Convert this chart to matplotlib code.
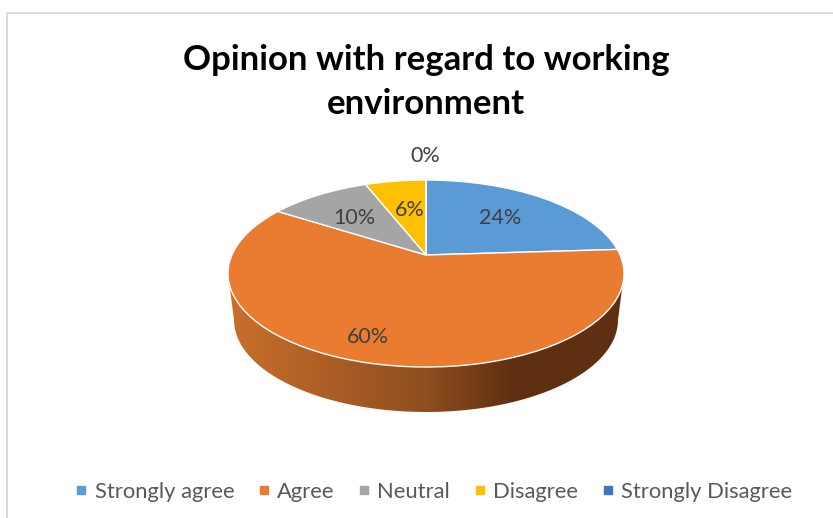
import numpy as np
import matplotlib
matplotlib.use('Agg')
import matplotlib.pyplot as plt
from matplotlib.colors import LinearSegmentedColormap
from matplotlib.lines import Line2D
from matplotlib.patches import PathPatch
from matplotlib.path import Path
from matplotlib.transforms import Transform

plt.rcParams['font.family'] = ['Lato', 'DejaVu Sans']

categories = ['Strongly agree', 'Agree', 'Neutral', 'Disagree', 'Strongly Disagree']
values = [24, 60, 10, 6, 0]
colors = ['#5b9bd5', '#ea7c32', '#a5a5a5', '#ffc000', '#4472c4']
title = 'Opinion with regard to working\nenvironment'

# where the percent labels sit, in pixels
label_xy = [(500, 218), (368, 337), (354, 218), (410, 210), (425, 156)]

W, H = 833, 518
CX, CY = 426, 255     # pie apex in pixels
K = 0.198             # perspective strength
SY = 89.84
SX = 194.1


class Tilt(Transform):
    # unit pie -> tilted disc in pixels, back of the disc is squeezed
    input_dims = 2
    output_dims = 2

    def transform_non_affine(self, xy):
        xy = np.asarray(xy, dtype=float)
        w = 1 + K * xy[:, 1]
        return np.column_stack([CX + SX * xy[:, 0] / w, CY - SY * xy[:, 1] / w])


fig = plt.figure(figsize=(W / 100, H / 100), dpi=100)
ax = fig.add_axes([0, 0, 1, 1])

wedges, _, autotexts = ax.pie(values, colors=colors, startangle=90, counterclock=False,
                              autopct='%.0f%%', wedgeprops={'edgecolor': 'white', 'linewidth': 1.0})
tilt = Tilt()
for w in wedges:
    w.set_transform(tilt + ax.transData)
    w.set_zorder(3)
for t, (x, y) in zip(autotexts, label_xy):
    t.set_position((x, y))
    t.set_fontsize(15.5)
    t.set_color('#404040')
    t.set_ha('center')
    t.set_va('center')
    t.set_zorder(4)

# side wall of the pie, top rim + bottom rim
a = np.linspace(np.pi, 0, 80)
top_x = 426 + 198 * np.cos(a)
top_y = 273.5 + 93.5 * np.sin(a)
bot_x = 426 + 192 * np.cos(a)
bot_y = 320 + 92 * np.sin(a)
wall = np.column_stack([np.r_[top_x, bot_x[::-1]], np.r_[top_y, bot_y[::-1]]])
patch = PathPatch(Path(np.r_[wall, wall[:1]]), facecolor='none', edgecolor='none')
ax.add_patch(patch)
shade = LinearSegmentedColormap.from_list('side', [(0, '#c96f2c'), (0.5, '#8f4e1f'),
                                                   (0.72, '#5f2f11'), (1, '#5f2f11')])
img = ax.imshow(np.linspace(0, 1, 256)[None, :], extent=(228, 624, 412, 273), cmap=shade,
                aspect='auto', zorder=2)
img.set_clip_path(patch)

# chart frame, runs off the image on the right and bottom
ax.plot([7, 7, W + 5], [H + 5, 13, 13], color='#d9d9d9', lw=1.3, zorder=1)

ax.set_aspect('auto')
ax.set_xlim(0, W)
ax.set_ylim(H, 0)
ax.axis('off')

ax.text(426, 82, title, ha='center', va='center', fontsize=25, fontweight='bold',
        color='black', linespacing=1.48)

handles = [Line2D([], [], ls='none', marker='s', ms=5.5, color=c) for c in colors]
fig.legend(handles, categories, ncol=5, loc='center', bbox_to_anchor=(435 / W, 1 - 492 / H),
           frameon=False, fontsize=15.8, labelcolor='#595959', handlelength=0.3,
           handletextpad=0.45, columnspacing=1.2)

fig.savefig('out.png', dpi=100, facecolor='white')
